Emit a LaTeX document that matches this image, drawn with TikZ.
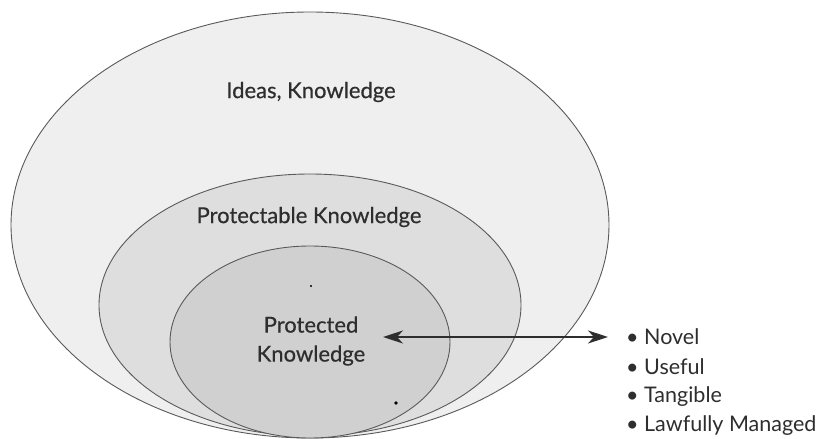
\documentclass[tikz,border=0pt]{standalone}
\usepackage{fontspec}
\setmainfont{Lato}
\newfontfamily\labelfont{Lato}[FakeBold=0.5]
\usetikzlibrary{arrows.meta}
\definecolor{lineg}{HTML}{5A5A5A}
\definecolor{txtg}{HTML}{2E2E2E}
\definecolor{fillA}{HTML}{EFEFEF}
\definecolor{fillB}{HTML}{DEDEDE}
\definecolor{fillC}{HTML}{D0D0D0}
\tikzset{
  ring/.style={draw=lineg, line width=0.9pt},
  lbl/.style={text=txtg, font=\labelfont\fontsize{22}{29}\selectfont, align=center, inner sep=0pt},
  item/.style={text=txtg, font=\fontsize{21.5}{25}\selectfont, anchor=west, inner sep=0pt},
  speck/.style={fill=black, draw=none}
}
\begin{document}
\begin{tikzpicture}[x=1pt,y=-1pt]
\useasboundingbox (0,0) rectangle (820,439);
\fill[white] (0,0) rectangle (820,439);
\filldraw[ring, fill=fillA] (310,225) ellipse [x radius=299pt, y radius=213pt];
\filldraw[ring, fill=fillB] (310,305) ellipse [x radius=211pt, y radius=131pt];
\filldraw[ring, fill=fillC] (310,342) ellipse [x radius=140pt, y radius=96pt];
\node[lbl] (ideas) at (311,92) {Ideas, Knowledge};
\node[lbl] (protectable) at (309,217) {Protectable Knowledge};
\node[lbl] (protected) at (311,341) {Protected\\Knowledge};
\fill[speck] (311,286) circle [radius=1.2pt];
\fill[speck] (396,403) circle [radius=1.8pt];
\node[item] (novel) at (626,337) {\textbullet\ Novel};
\node[item] (useful) at (626,367) {\textbullet\ Useful};
\node[item] (tangible) at (626,397) {\textbullet\ Tangible};
\node[item] (lawful) at (626,426) {\textbullet\ Lawfully Managed};
\coordinate (arrL) at (383,337);
\coordinate (arrR) at ([xshift=-18pt]novel.west);
\draw[draw=txtg, line width=1.6pt, {Stealth[length=20pt,width=13pt,inset=6pt]}-{Stealth[length=20pt,width=13pt,inset=6pt]}] (arrL) -- (arrR);
\end{tikzpicture}
\end{document}
